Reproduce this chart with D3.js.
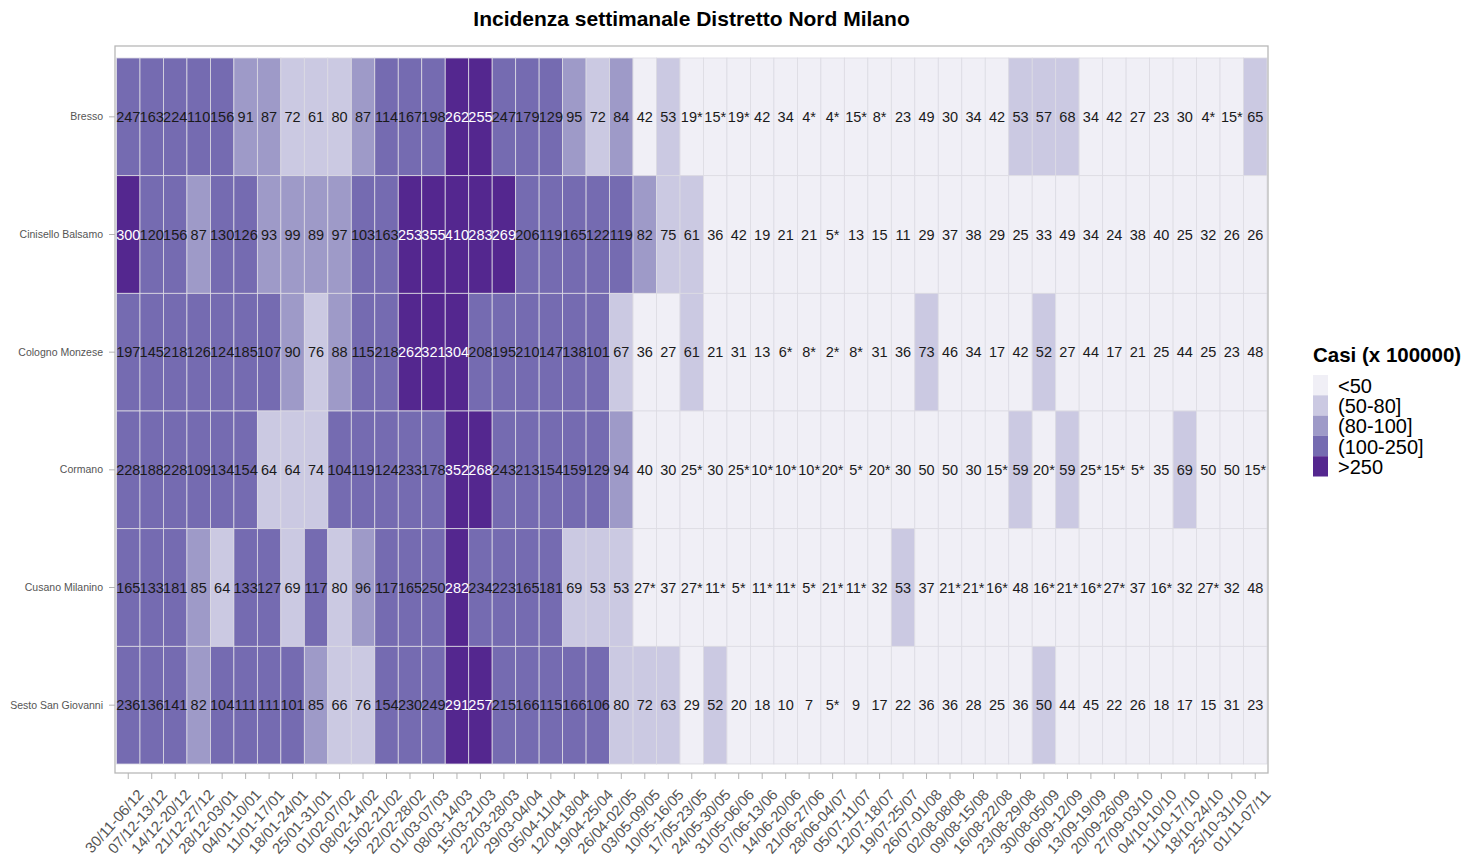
<!DOCTYPE html>
<html>
  <head>
    <title>Incidenza settimanale Distretto Nord Milano</title>
    <script src="https://d3js.org/d3.v7.min.js"></script>
    <style>
      body { margin: 0; background: #fff; }
      svg { font-family: "Liberation Sans", Arial, sans-serif; }
      .axis path { display: none; }
      .axis line { stroke: #b3b3b3; }
      .axis text { fill: #555; }
    </style>
  </head>
  <body>
    <svg width="1465" height="859"></svg>
    <script>

    const towns = ["Bresso", "Cinisello Balsamo", "Cologno Monzese", "Cormano", "Cusano Milanino", "Sesto San Giovanni"];

    const weeks = ["30/11-06/12", "07/12-13/12", "14/12-20/12", "21/12-27/12", "28/12-03/01", "04/01-10/01",
      "11/01-17/01", "18/01-24/01", "25/01-31/01", "01/02-07/02", "08/02-14/02", "15/02-21/02", "22/02-28/02",
      "01/03-07/03", "08/03-14/03", "15/03-21/03", "22/03-28/03", "29/03-04/04", "05/04-11/04", "12/04-18/04",
      "19/04-25/04", "26/04-02/05", "03/05-09/05", "10/05-16/05", "17/05-23/05", "24/05-30/05", "31/05-06/06",
      "07/06-13/06", "14/06-20/06", "21/06-27/06", "28/06-04/07", "05/07-11/07", "12/07-18/07", "19/07-25/07",
      "26/07-01/08", "02/08-08/08", "09/08-15/08", "16/08-22/08", "23/08-29/08", "30/08-05/09", "06/09-12/09",
      "13/09-19/09", "20/09-26/09", "27/09-03/10", "04/10-10/10", "11/10-17/10", "18/10-24/10", "25/10-31/10",
      "01/11-07/11"];

    // "*" = dato con asterisco nel grafico originale
    const bresso = ["247","163","224","110","156","91","87","72","61","80","87","114","167","198","262","255",
      "247","179","129","95","72","84","42","53","19*","15*","19*","42","34","4*","4*","15*","8*","23","49",
      "30","34","42","53","57","68","34","42","27","23","30","4*","15*","65"];
    const cinisello = ["300","120","156","87","130","126","93","99","89","97","103","163","253","355","410","283",
      "269","206","119","165","122","119","82","75","61","36","42","19","21","21","5*","13","15","11","29",
      "37","38","29","25","33","49","34","24","38","40","25","32","26","26"];
    const cologno = ["197","145","218","126","124","185","107","90","76","88","115","218","262","321","304","208",
      "195","210","147","138","101","67","36","27","61","21","31","13","6*","8*","2*","8*","31","36","73",
      "46","34","17","42","52","27","44","17","21","25","44","25","23","48"];
    const cormano = ["228","188","228","109","134","154","64","64","74","104","119","124","233","178","352","268",
      "243","213","154","159","129","94","40","30","25*","30","25*","10*","10*","10*","20*","5*","20*","30","50",
      "50","30","15*","59","20*","59","25*","15*","5*","35","69","50","50","15*"];
    const cusano = ["165","133","181","85","64","133","127","69","117","80","96","117","165","250","282","234",
      "223","165","181","69","53","53","27*","37","27*","11*","5*","11*","11*","5*","21*","11*","32","53","37",
      "21*","21*","16*","48","16*","21*","16*","27*","37","16*","32","27*","32","48"];
    const sesto = ["236","136","141","82","104","111","111","101","85","66","76","154","230","249","291","257",
      "215","166","115","166","106","80","72","63","29","52","20","18","10","7","5*","9","17","22","36",
      "36","28","25","36","50.4","44","45","22","26","18","17","15","31","23"];

    const classes = ["<50", "(50-80]", "(80-100]", "(100-250]", ">250"];
    const breaks = [50, 80, 100, 250];
    const palette = ["#f0eff6", "#cbc9e2", "#9e9ac8", "#756bb1", "#54278f"];

    const series = [bresso, cinisello, cologno, cormano, cusano, sesto];
    const cells = [];
    series.forEach((row, i) => {
      row.forEach((s, j) => {
        const v = parseFloat(s);
        cells.push({
          town: towns[i],
          week: weeks[j],
          value: v,
          cls: classes[d3.bisectLeft(breaks, v)],
          label: Math.round(v) + (s.endsWith("*") ? "*" : "")
        });
      });
    });

    const svg = d3.select("svg");
    const panel = { left: 115, right: 1268, top: 46, bottom: 773 };

    const x = d3.scaleBand()
      .domain(weeks)
      .range([116.5, 1267]);

    const y = d3.scaleBand()
      .domain(towns)
      .range([58, 764]);

    const color = d3.scaleOrdinal()
      .domain(classes)
      .range(palette);

    svg.append("text")
      .attr("x", (panel.left + panel.right) / 2)
      .attr("y", 26)
      .attr("text-anchor", "middle")
      .style("font-size", "21px")
      .style("font-weight", "bold")
      .text("Incidenza settimanale Distretto Nord Milano");

    svg.append("rect")
      .attr("x", panel.left)
      .attr("y", panel.top)
      .attr("width", panel.right - panel.left)
      .attr("height", panel.bottom - panel.top)
      .attr("fill", "#fff");

    svg.append("g")
      .selectAll("rect")
      .data(cells)
      .join("rect")
      .attr("x", d => x(d.week))
      .attr("y", d => y(d.town))
      .attr("width", x.bandwidth())
      .attr("height", y.bandwidth())
      .attr("fill", d => color(d.cls))
      .attr("stroke", "#dcdbe3")
      .attr("stroke-width", 0.8);

    svg.append("g")
      .selectAll("text")
      .data(cells)
      .join("text")
      .attr("x", d => x(d.week) + x.bandwidth() / 2)
      .attr("y", d => y(d.town) + y.bandwidth() / 2)
      .attr("dy", "0.36em")
      .attr("text-anchor", "middle")
      .style("font-size", "14.5px")
      .attr("fill", d => d.cls === ">250" ? "#fff" : "#1a1a1a")
      .text(d => d.label);

    svg.append("rect")
      .attr("x", panel.left)
      .attr("y", panel.top)
      .attr("width", panel.right - panel.left)
      .attr("height", panel.bottom - panel.top)
      .attr("fill", "none")
      .attr("stroke", "#b8b8b8")
      .attr("stroke-width", 1.3);

    svg.append("g")
      .attr("class", "axis")
      .attr("transform", `translate(0,${panel.bottom})`)
      .call(d3.axisBottom(x).tickSize(6).tickPadding(4))
      .selectAll("text")
      .style("font-size", "15px")
      .attr("text-anchor", "end")
      .attr("dy", "0.35em")
      .attr("transform", "translate(5,12) rotate(-48)");

    svg.append("g")
      .attr("class", "axis")
      .attr("transform", `translate(${panel.left},0)`)
      .call(d3.axisLeft(y).tickSize(6).tickPadding(6))
      .selectAll("text")
      .style("font-size", "10.5px");

    const legend = svg.append("g")
      .attr("transform", "translate(1313,375)");

    legend.append("text")
      .attr("x", 0)
      .attr("y", -13)
      .style("font-size", "20.5px")
      .style("font-weight", "bold")
      .text("Casi (x 100000)");

    legend.selectAll("rect")
      .data(classes)
      .join("rect")
      .attr("x", 0)
      .attr("y", (d, i) => i * 20.3)
      .attr("width", 15)
      .attr("height", 20.3)
      .attr("fill", d => color(d));

    legend.selectAll("text.key")
      .data(classes)
      .join("text")
      .attr("class", "key")
      .attr("x", 25)
      .attr("y", (d, i) => i * 20.3 + 10.5)
      .attr("dy", "0.36em")
      .style("font-size", "20px")
      .text(d => d);

    </script>
  </body>
</html>
